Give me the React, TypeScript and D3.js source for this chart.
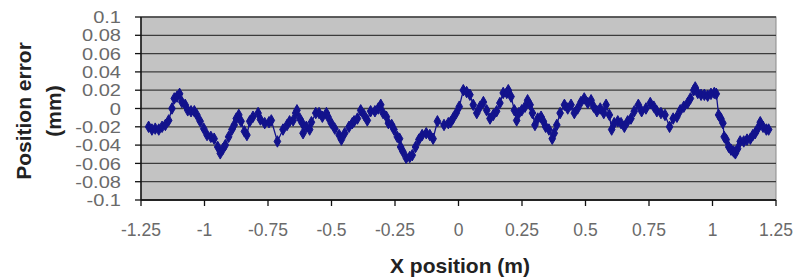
import React from "react";
import * as d3 from "d3";

const xPos: number[] = [
  -1.22, -1.207, -1.194, -1.18, -1.167, -1.154, -1.141, -1.128, -1.119, -1.108, -1.098, -1.089, -1.076, -1.066, -1.053, -1.04, -1.03, -1.017, -1.003, -0.99, -0.975, -0.962, -0.948, -0.938, -0.927, -0.918, -0.905, -0.892, -0.883, -0.875, -0.865, -0.856, -0.843,
  -0.833, -0.822, -0.809, -0.789, -0.78, -0.763, -0.746, -0.737, -0.713, -0.691, -0.675, -0.665, -0.651, -0.641, -0.636, -0.625, -0.615, -0.612, -0.599, -0.586, -0.579, -0.562, -0.549, -0.536, -0.52, -0.514, -0.501, -0.487, -0.47, -0.461, -0.448, -0.431,
  -0.418, -0.411, -0.398, -0.385, -0.372, -0.359, -0.346, -0.329, -0.316, -0.306, -0.297, -0.284, -0.276, -0.263, -0.254, -0.241, -0.232, -0.228, -0.219, -0.206, -0.192, -0.182, -0.169, -0.156, -0.143, -0.127, -0.113, -0.1, -0.083, -0.057, -0.04, -0.031, -0.022, -0.009,
  0.003, 0.019, 0.032, 0.045, 0.058, 0.072, 0.085, 0.098, 0.111, 0.124, 0.137, 0.15, 0.163, 0.176, 0.19, 0.196, 0.207, 0.22, 0.229, 0.238, 0.249, 0.262, 0.272, 0.282, 0.291, 0.301, 0.312, 0.325, 0.334, 0.343, 0.356, 0.369, 0.377, 0.387, 0.4,
  0.417, 0.43, 0.443, 0.456, 0.469, 0.482, 0.495, 0.509, 0.522, 0.532, 0.545, 0.558, 0.572, 0.581, 0.594, 0.603, 0.613, 0.627, 0.64, 0.653, 0.666, 0.679, 0.692, 0.708, 0.721, 0.738, 0.755, 0.769, 0.781, 0.797, 0.813, 0.831,
  0.845, 0.86, 0.873, 0.887, 0.902, 0.913, 0.926, 0.932, 0.942, 0.955, 0.968, 0.981, 0.994, 1.007, 1.015, 1.024, 1.033, 1.041, 1.046, 1.054, 1.064, 1.073, 1.083, 1.09, 1.099, 1.109, 1.123, 1.136, 1.149, 1.159, 1.168, 1.178, 1.188, 1.199, 1.212, 1.221,
];

const posError: number[] = [
  -0.02, -0.023, -0.022, -0.023, -0.02, -0.018, -0.013, 0.0, 0.011, 0.013, 0.016, 0.007, 0.004, -0.002, -0.003, -0.003, -0.007, -0.014, -0.022, -0.029, -0.031, -0.033, -0.042, -0.049, -0.044, -0.04, -0.031, -0.023, -0.018, -0.011, -0.007, -0.014, -0.025,
  -0.029, -0.014, -0.009, -0.005, -0.012, -0.016, -0.015, -0.013, -0.036, -0.023, -0.018, -0.014, -0.013, -0.005, -0.002, -0.011, -0.016, -0.027, -0.02, -0.023, -0.015, -0.005, -0.005, -0.009, -0.005, -0.009, -0.016, -0.022, -0.029, -0.034, -0.027, -0.02,
  -0.016, -0.014, -0.011, -0.002, -0.007, -0.013, -0.003, -0.003, 0.0, 0.004, -0.005, -0.009, -0.016, -0.018, -0.023, -0.031, -0.033, -0.042, -0.047, -0.054, -0.053, -0.051, -0.042, -0.034, -0.029, -0.027, -0.029, -0.033, -0.014, -0.018, -0.016, -0.015, -0.011, -0.005,
  0.002, 0.02, 0.018, 0.015, 0.004, -0.005, 0.002, 0.007, -0.002, -0.011, -0.007, -0.003, 0.006, 0.017, 0.017, 0.02, 0.013, -0.002, -0.013, -0.005, -0.002, 0.002, 0.009, 0.004, -0.005, -0.018, -0.011, -0.009, -0.014, -0.02, -0.023, -0.033, -0.027, -0.018, -0.005,
  0.004, 0.0, 0.004, -0.005, 0.0, 0.007, 0.011, 0.006, 0.009, 0.002, -0.003, 0.0, -0.005, 0.004, -0.007, -0.023, -0.016, -0.014, -0.016, -0.02, -0.014, -0.011, -0.003, 0.004, -0.003, 0.0, 0.006, 0.002, -0.003, -0.005, -0.007, -0.02,
  -0.011, -0.009, -0.002, 0.002, 0.006, 0.011, 0.02, 0.023, 0.017, 0.015, 0.015, 0.014, 0.016, 0.017, 0.016, -0.007, -0.011, -0.016, -0.031, -0.034, -0.042, -0.045, -0.047, -0.049, -0.044, -0.036, -0.036, -0.034, -0.033, -0.029, -0.027, -0.022, -0.015, -0.02, -0.023, -0.023,
];

const xTicks: number[] = [-1.25, -1, -0.75, -0.5, -0.25, 0, 0.25, 0.5, 0.75, 1, 1.25];
const xTickLabels: string[] = ["-1.25", "-1", "-0.75", "-0.5", "-0.25", "0", "0.25", "0.5", "0.75", "1", "1.25"];
const yTicks: number[] = [0.1, 0.08, 0.06, 0.04, 0.02, 0, -0.02, -0.04, -0.06, -0.08, -0.1];
const yTickLabels: string[] = ["0.1", "0.08", "0.06", "0.04", "0.02", "0", "-0.02", "-0.04", "-0.06", "-0.08", "-0.1"];

const W = 801;
const H = 279;
const L = 141;
const R = 776;
const T = 17;
const B = 200;

export default function App() {
  const x = d3.scaleLinear().domain([-1.25, 1.25]).range([L, R]);
  const y = d3.scaleLinear().domain([-0.1, 0.1]).range([B, T]);
  const pts = xPos.map((v, i) => [x(v), y(posError[i])] as [number, number]);
  const line = d3.line()(pts) || "";
  const diamond = d3.symbol().type(d3.symbolDiamond).size(38)() || "";
  const font = "Arial, 'Liberation Sans', sans-serif";
  const color = "#12128c";

  return (
    <svg width={W} height={H} style={{ position: "absolute", left: 0, top: 0, background: "#fff" }}>
      <rect x={L} y={T} width={R - L} height={B - T} fill="#c3c3c3" stroke="#8a8a8a" strokeWidth={1} />
      {yTicks.map((t) => (
        <line key={"g" + t} x1={L} x2={R} y1={y(t)} y2={y(t)} stroke="#3c3c3c" strokeWidth={1.3} />
      ))}
      <line x1={L} x2={L} y1={T} y2={B} stroke="#111" strokeWidth={1.5} />
      <line x1={L} x2={R} y1={B} y2={B} stroke="#111" strokeWidth={1.5} />
      {yTicks.map((t, i) => (
        <g key={"y" + t}>
          <line x1={L - 6} x2={L} y1={y(t)} y2={y(t)} stroke="#111" strokeWidth={1.3} />
          <g transform={`translate(121,${y(t)}) scale(1.18,1)`}>
            <text x={0} y={0} dy="0.36em" textAnchor="end" fontFamily={font} fontSize={17} fill="#6a6a6a">
              {yTickLabels[i]}
            </text>
          </g>
        </g>
      ))}
      {xTicks.map((t, i) => (
        <g key={"x" + t}>
          <line x1={x(t)} x2={x(t)} y1={B} y2={B + 6} stroke="#111" strokeWidth={1.3} />
          <text x={x(t)} y={230} dy="0.36em" textAnchor="middle" fontFamily={font} fontSize={17.5} fill="#6a6a6a">
            {xTickLabels[i]}
          </text>
        </g>
      ))}
      <path d={line} fill="none" stroke={color} strokeWidth={1.3} />
      {pts.map((p, i) => (
        <path key={i} d={diamond} transform={`translate(${p[0]},${p[1]})`} fill={color} stroke={color} strokeWidth={1} />
      ))}
      <text x={460} y={265} dy="0.36em" textAnchor="middle" fontFamily={font} fontWeight="bold" fontSize={21} fill="#222">
        X position (m)
      </text>
      <g transform="translate(23,111) rotate(-90)">
        <text x={0} y={0} dy="0.36em" textAnchor="middle" fontFamily={font} fontWeight="bold" fontSize={21} fill="#222">
          Position error
        </text>
      </g>
      <g transform="translate(53,111) rotate(-90)">
        <text x={0} y={0} dy="0.36em" textAnchor="middle" fontFamily={font} fontWeight="bold" fontSize={21} fill="#222">
          (mm)
        </text>
      </g>
    </svg>
  );
}
